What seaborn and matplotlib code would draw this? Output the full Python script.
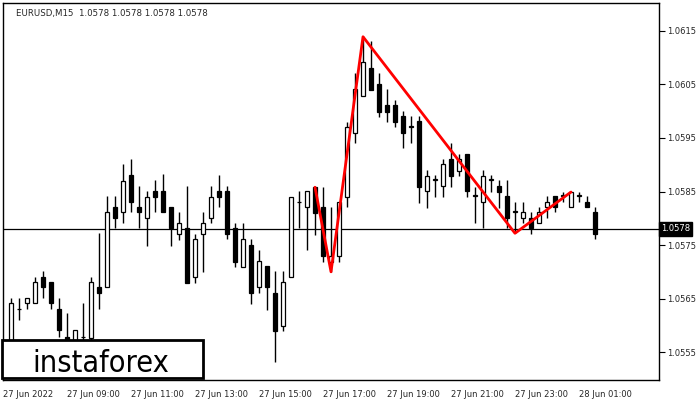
import numpy as np
import pandas as pd
import matplotlib
matplotlib.use("Agg")
import matplotlib.pyplot as plt
from matplotlib.patches import Rectangle
import seaborn as sns

# EURUSD M15 bars from 27 Jun 07:15 (bar index 1) to 28 Jun 01:30 (bar index 74)
opens = [1.05560, 1.05630, 1.05642, 1.05642, 1.05690, 1.05681, 1.05630, 1.05578, 1.05572, 1.05578,
         1.05576, 1.05672, 1.05672, 1.05821, 1.05812, 1.05881, 1.05821, 1.05800, 1.05851, 1.05851,
         1.05821, 1.05771, 1.05782, 1.05690, 1.05771, 1.05800, 1.05851, 1.05851, 1.05782, 1.05709,
         1.05750, 1.05672, 1.05711, 1.05660, 1.05599, 1.05690, 1.05830, 1.05821, 1.05858, 1.05821,
         1.05718, 1.05729, 1.05840, 1.05959, 1.06029, 1.06081, 1.06051, 1.06012, 1.06012, 1.05991,
         1.05971, 1.05982, 1.05851, 1.05872, 1.05860, 1.05911, 1.05888, 1.05920, 1.05842, 1.05830,
         1.05872, 1.05860, 1.05842, 1.05812, 1.05800, 1.05800, 1.05791, 1.05821, 1.05842, 1.05842,
         1.05821, 1.05842, 1.05830, 1.05812]
highs = [1.05651, 1.05651, 1.05651, 1.05690, 1.05701, 1.05681, 1.05651, 1.05623, 1.05591, 1.05642,
         1.05690, 1.05772, 1.05842, 1.05842, 1.05901, 1.05911, 1.05860, 1.05851, 1.05872, 1.05883,
         1.05821, 1.05812, 1.05860, 1.05771, 1.05812, 1.05860, 1.05881, 1.05860, 1.05791, 1.05791,
         1.05761, 1.05741, 1.05711, 1.05701, 1.05701, 1.05840, 1.05851, 1.05851, 1.05858, 1.05858,
         1.05821, 1.05830, 1.05980, 1.06072, 1.06141, 1.06131, 1.06072, 1.06042, 1.06021, 1.06000,
         1.05991, 1.05991, 1.05890, 1.05881, 1.05911, 1.05941, 1.05920, 1.05920, 1.05858, 1.05890,
         1.05881, 1.05872, 1.05872, 1.05830, 1.05830, 1.05812, 1.05821, 1.05842, 1.05842, 1.05849,
         1.05849, 1.05849, 1.05842, 1.05821]
lows = [1.05540, 1.05610, 1.05630, 1.05642, 1.05651, 1.05630, 1.05578, 1.05560, 1.05560, 1.05572,
        1.05567, 1.05630, 1.05672, 1.05782, 1.05791, 1.05812, 1.05782, 1.05748, 1.05812, 1.05812,
        1.05748, 1.05759, 1.05679, 1.05679, 1.05700, 1.05791, 1.05821, 1.05761, 1.05709, 1.05709,
        1.05640, 1.05660, 1.05628, 1.05531, 1.05589, 1.05690, 1.05782, 1.05741, 1.05769, 1.05718,
        1.05700, 1.05718, 1.05821, 1.05941, 1.06029, 1.06040, 1.05989, 1.05980, 1.05971, 1.05931,
        1.05941, 1.05829, 1.05819, 1.05840, 1.05840, 1.05858, 1.05879, 1.05840, 1.05791, 1.05782,
        1.05849, 1.05819, 1.05782, 1.05772, 1.05791, 1.05771, 1.05791, 1.05800, 1.05812, 1.05830,
        1.05821, 1.05830, 1.05821, 1.05761]
closes = [1.05642, 1.05631, 1.05651, 1.05681, 1.05672, 1.05642, 1.05591, 1.05572, 1.05591, 1.05578,
          1.05681, 1.05660, 1.05812, 1.05800, 1.05870, 1.05830, 1.05812, 1.05840, 1.05840, 1.05812,
          1.05782, 1.05791, 1.05679, 1.05761, 1.05791, 1.05840, 1.05840, 1.05771, 1.05718, 1.05761,
          1.05660, 1.05720, 1.05672, 1.05589, 1.05681, 1.05840, 1.05830, 1.05851, 1.05810, 1.05729,
          1.05729, 1.05830, 1.05971, 1.06042, 1.06092, 1.06040, 1.05999, 1.05999, 1.05980, 1.05959,
          1.05971, 1.05858, 1.05879, 1.05872, 1.05901, 1.05879, 1.05911, 1.05851, 1.05842, 1.05879,
          1.05872, 1.05849, 1.05800, 1.05812, 1.05812, 1.05782, 1.05812, 1.05830, 1.05821, 1.05842,
          1.05849, 1.05842, 1.05821, 1.05771]

# head & shoulders style pattern drawn in red (bar index, price)
pattern_bar = [39, 41, 45, 64, 71]
pattern_price = [1.05858, 1.05700, 1.06139, 1.05772, 1.05849]

tick_bars = [0, 8, 16, 24, 32, 40, 48, 56, 64, 72]
tick_labels = ["27 Jun 2022", "27 Jun 09:00", "27 Jun 11:00", "27 Jun 13:00", "27 Jun 15:00",
               "27 Jun 17:00", "27 Jun 19:00", "27 Jun 21:00", "27 Jun 23:00", "28 Jun 01:00"]
price_ticks = [1.0555, 1.0565, 1.0575, 1.0585, 1.0595, 1.0605, 1.0615]
bid = 1.0578

df = pd.DataFrame({"open": opens, "high": highs, "low": lows, "close": closes})
df["bar"] = np.arange(1, len(df) + 1)
df["up"] = df["close"] >= df["open"]

sns.set_style("white")
plt.rcParams['font.family'] = ['DejaVu Sans']

fig = plt.figure(figsize=(7, 4), dpi=100)
ax = fig.add_axes([3/700, 20/400, 656/700, 377/400])

#wicks
ax.vlines(df["bar"], df["low"], df["high"], color="black", lw=1, zorder=2)
#bodies
body_h = (df["close"] - df["open"]).abs().clip(lower=0.000012)
body_b = df[["open", "close"]].min(axis=1)
ax.bar(df["bar"], body_h, bottom=body_b, width=0.62,
       color=np.where(df["up"], "white", "black"), edgecolor="black", lw=0.9, zorder=3)

#bid line
ax.axhline(bid, color="black", lw=0.9, zorder=1)

#pattern
sns.lineplot(x=pattern_bar, y=pattern_price, sort=False, color="red", lw=2, ax=ax, zorder=4)

ax.set_xlim(0, 82)
ax.set_ylim(1.05498, 1.06202)
ax.set_xticks(tick_bars)
ax.set_xticklabels(tick_labels, fontsize=6, ha="left")
ax.yaxis.tick_right()
ax.set_yticks(price_ticks)
ax.set_yticklabels([f"{p:.4f}" for p in price_ticks], fontsize=6)
ax.tick_params(axis="both", length=4, width=0.8, color="black", direction="out", pad=2)
ax.tick_params(axis="x", pad=3)
for s in ax.spines.values():
    s.set_color("black")
    s.set_linewidth(1)

#current price box on the axis
ax.text(1.003, bid, "1.0578", transform=ax.get_yaxis_transform(), fontsize=6, color="white",
        va="center", ha="left", bbox=dict(boxstyle="square,pad=0.25", fc="black", ec="black"))

ax.text(0.02, 0.985, "EURUSD,M15  1.0578 1.0578 1.0578 1.0578", transform=ax.transAxes,
        fontsize=6.2, va="top", ha="left")

#logo box
fig.add_artist(Rectangle((2/700, 22/400), 201/700, 38/400, transform=fig.transFigure,
                         facecolor="white", edgecolor="black", lw=2, zorder=10))
fig.text(101/700, 28/400, "instaforex", fontsize=22, ha="center", va="baseline",
         family="DejaVu Sans", fontstretch="condensed", color="black", zorder=11)

fig.savefig("out.png", dpi=100)
